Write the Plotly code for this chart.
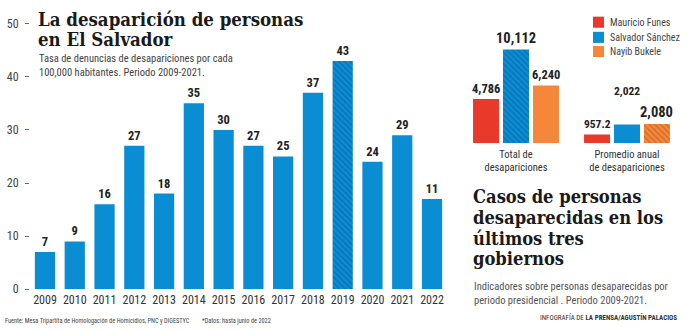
import plotly.graph_objects as go

# ---------------- data ----------------
years = ["2009", "2010", "2011", "2012", "2013", "2014", "2015",
         "2016", "2017", "2018", "2019", "2020", "2021", "2022"]
# drawn bar heights (rate per 100,000)
rates = [7, 9, 16, 27, 18, 35, 30, 27, 25, 37, 43, 24, 29, 17]
# value labels printed above the bars (2022 is partial: data until June)
rate_labels = ["7", "9", "16", "27", "18", "35", "30", "27", "25", "37",
               "43", "24", "29", "11"]
rate_hatched = ["", "", "", "", "", "", "", "", "", "", "\\", "", "", ""]

indicators = ["Total de<br>desapariciones", "Promedio anual<br>de desapariciones"]
presidents = ["Mauricio Funes", "Salvador Sánchez", "Nayib Bukele"]
funes = [4786, 957.2]
sanchez = [10112, 2022]
bukele = [6240, 2080]
funes_lbl = ["4,786", "957.2"]
sanchez_lbl = ["10,112", "2,022"]
bukele_lbl = ["6,240", "2,080"]
funes_hatch = ["", ""]
sanchez_hatch = ["\\", ""]
bukele_hatch = ["", "\\"]

# ---------------- style ----------------
W, H = 690, 331
HE = 321  # effective rendered plot height in the capture
BLUE = "#0b8dd4"
BLUE_D = "#07558f"
RED = "#e8392b"
ORANGE = "#f5873a"
ORANGE_D = "#b0521a"
COND = "Noto Sans Condensed, Roboto Condensed, Liberation Sans Narrow, Roboto, sans-serif"
SERIF = "DejaVu Serif Condensed, DejaVu Serif, serif"

def px_x(a, b):
    return [a / W, b / W]

def py(y):
    return (HE - y) / HE

def px_y(top, bottom):
    return [py(bottom), py(top)]

fig = go.Figure()

# left chart
fig.add_trace(go.Bar(
    x=years, y=rates, text=rate_labels, textposition="outside",
    texttemplate="<b>%{text}</b>",
    textfont=dict(family=COND, size=12.5, color="#222"),
    marker=dict(color=BLUE, line=dict(width=0),
                pattern=dict(shape=rate_hatched, fgcolor=BLUE_D, size=4, solidity=0.35)),
    width=0.68, cliponaxis=False, showlegend=False, xaxis="x", yaxis="y",
))

# right chart
groups = [
    (presidents[0], funes, funes_lbl, funes_hatch, RED, "#9e2418", -0.387),
    (presidents[1], sanchez, sanchez_lbl, sanchez_hatch, BLUE, BLUE_D, -0.117),
    (presidents[2], bukele, bukele_lbl, bukele_hatch, ORANGE, ORANGE_D, 0.153),
]
bw = 0.234
for name, vals, lbls, hatch, col, dcol, off in groups:
    fig.add_trace(go.Bar(
        x=indicators, y=vals, name=name, width=bw, offset=off,
        marker=dict(color=col, line=dict(width=0),
                    pattern=dict(shape=hatch, fgcolor=dcol, size=4, solidity=0.35)),
        showlegend=False, xaxis="x2", yaxis="y2", hoverinfo="y+name",
    ))

annotations = []
label_sizes = {"4,786": 12.5, "10,112": 14.5, "6,240": 12.5, "957.2": 11.5, "2,022": 11.5, "2,080": 14.5}
label_shift = {"2,022": 25}
for gi, (name, vals, lbls, hatch, col, dcol, off) in enumerate(groups):
    for ci, (v, l) in enumerate(zip(vals, lbls)):
        annotations.append(dict(
            x=ci + off + bw / 2, y=v, xref="x2", yref="y2", text="<b>%s</b>" % l,
            showarrow=False, xanchor="center", yanchor="bottom", yshift=label_shift.get(l, 1),
            font=dict(family=COND, size=label_sizes[l], color="#222")))

# texts
def txt(x, y, text, size, color="#222", family=COND, xanchor="left", yanchor="middle",
        align="left"):
    annotations.append(dict(x=x / W, y=py(y), xref="paper", yref="paper", text=text,
                            showarrow=False, xanchor=xanchor, yanchor=yanchor, align=align,
                            font=dict(family=family, size=size, color=color)))

for line, yy in zip(["La desaparición de personas", "en El Salvador"], [19, 39]):
    txt(36, yy, "<b>%s</b>" % line, 18.5, "#1a1a1a", SERIF)
for line, yy in zip(["Tasa de denuncias de desapariciones por cada",
                     "100,000 habitantes. Periodo 2009-2021."], [58, 72]):
    txt(37, yy, line, 10.5, "#444")
for line, yy in zip(["Casos de personas", "desaparecidas en los", "últimos tres", "gobiernos"],
                    [195, 215.5, 236, 256.5]):
    txt(471, yy, "<b>%s</b>" % line, 18.2, "#1a1a1a", SERIF)
for line, yy in zip(["Indicadores sobre personas desaparecidas por",
                     "periodo presidencial . Periodo 2009-2021."], [284, 298]):
    txt(472, yy, line, 10.5, "#555")
txt(679, 315, "INFOGRAFÍA DE <b>LA PRENSA/AGUSTÍN PALACIOS</b>", 7, "#333", xanchor="right")
txt(3, 318, "Fuente: Mesa Tripartita de Homologación de Homicidios, PNC y DIGESTYC", 6.3, "#444")
txt(200, 318, "*Datos: hasta junio de 2022", 6.3, "#444")

# manual legend
shapes = []
leg_y = [22, 37, 51]
for (name, *_rest), yy in zip(groups, leg_y):
    col = _rest[3]
    shapes.append(dict(type="rect", xref="paper", yref="paper",
                       x0=593 / W, x1=604 / W, y0=py(yy + 5.5), y1=py(yy - 5.5),
                       fillcolor=col, line=dict(width=0)))
    txt(608, yy, name, 10, "#444")

fig.update_layout(
    width=W, height=H, margin=dict(l=0, r=0, t=0, b=0),
    paper_bgcolor="white", plot_bgcolor="white", barmode="overlay",
    annotations=annotations, shapes=shapes,
    xaxis=dict(domain=px_x(30.1, 446.9), type="category", range=[-0.5, 13.5],
               showgrid=False, showline=False, ticks="", zeroline=False, tickangle=0,
               ticklabelstandoff=2,
               tickfont=dict(family=COND, size=12, color="#333")),
    yaxis=dict(domain=px_y(13, 286.5), range=[0, 52], tickvals=[0, 10, 20, 30, 40, 50],
               showgrid=False, showline=False, zeroline=False, ticks="outside", ticklen=4,
               tickcolor="#666", tickwidth=1, ticklabelstandoff=4,
               tickfont=dict(family=COND, size=12, color="#444")),
    xaxis2=dict(domain=px_x(460.5, 682.5), type="category", range=[-0.5, 1.5], anchor="y2",
                showgrid=False, showline=False, ticks="", zeroline=False, tickangle=0,
                ticklabelstandoff=3,
                tickfont=dict(family=COND, size=10.5, color="#333")),
    yaxis2=dict(domain=px_y(142 - 110.3, 142), range=[0, 12000], anchor="x2",
                visible=False, showgrid=False, zeroline=False),
    font=dict(family=COND),
)

fig.write_html("out.html")
